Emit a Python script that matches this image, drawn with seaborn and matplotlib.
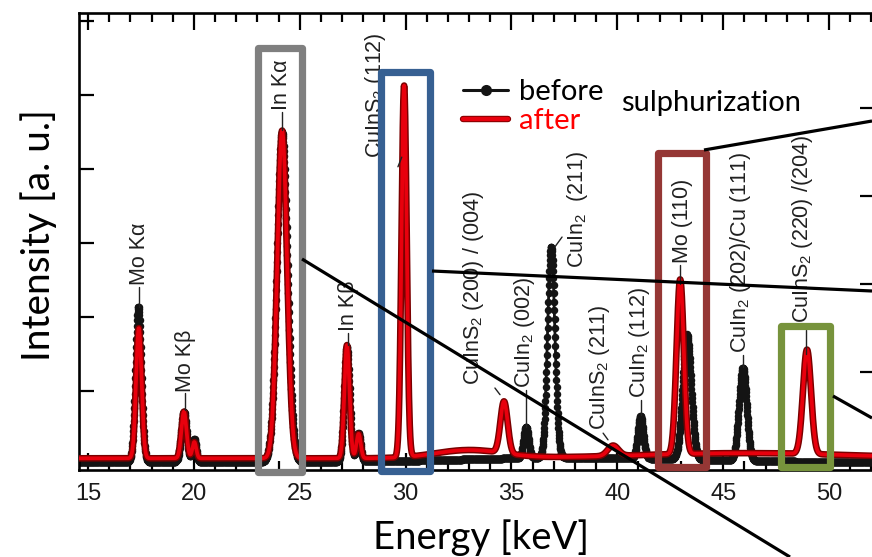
import numpy as np
import pandas as pd
import seaborn as sns
import matplotlib.pyplot as plt
import matplotlib.patheffects as pe
from matplotlib.lines import Line2D
from matplotlib.patches import Rectangle
from matplotlib.transforms import Affine2D
from matplotlib.ticker import MultipleLocator

# ---------------------------------------------------------------------------
# Peak tables (centre [keV], height above background [a.u.], width sigma [keV])
# ---------------------------------------------------------------------------
before_centers = [17.38, 19.53, 20.02, 24.17, 27.23, 27.78, 35.69, 36.88, 41.10, 43.29, 45.93, 38.0]
before_heights = [2.10, 0.68, 0.31, 4.46, 1.55, 0.38, 0.42, 2.85, 0.57, 1.69, 1.26, 0.06]
before_sigmas = [0.14, 0.13, 0.09, 0.25, 0.13, 0.10, 0.12, 0.17, 0.13, 0.20, 0.18, 5.0]
before_background = 0.04

after_centers = [17.40, 19.53, 20.02, 24.17, 27.23, 27.78, 29.93, 34.65, 39.80, 42.97, 48.96, 33.0, 46.0]
after_heights = [1.76, 0.63, 0.22, 4.43, 1.53, 0.33, 5.02, 0.70, 0.14, 2.36, 1.41, 0.11, 0.07]
after_sigmas = [0.13, 0.12, 0.09, 0.23, 0.12, 0.10, 0.12, 0.17, 0.25, 0.17, 0.19, 1.6, 5.0]
after_background = 0.09

# Peak assignments: label, text position (keV, a.u.), leader start and end
peak_labels = ["Mo Kα", "Mo Kβ", "In Kα", "In Kβ", "CuInS$_2$ (112)",
               "CuInS$_2$ (200) / (004)", "CuIn$_2$ (002)", "CuIn$_2$  (211)",
               "CuInS$_2$ (211)", "CuIn$_2$ (112)", "Mo (110)",
               "CuIn$_2$ (202)/Cu (111)", "CuInS$_2$ (220) /(204)"]
label_x = [17.41, 19.62, 24.16, 27.31, 28.56, 33.19, 35.64, 38.10, 39.14, 41.03, 43.08, 45.80, 48.77]
label_y = [2.43, 0.99, 4.80, 1.81, 4.15, 1.08, 1.04, 2.66, 0.47, 0.91, 2.73, 1.51, 1.92]
leader_x0 = [17.41, 19.58, 24.16, 27.28, 29.64, 34.46, 35.69, 37.06, 39.56, 41.12, 42.96, 45.94, 48.92]
leader_y0 = [2.14, 0.74, 4.53, 1.62, 4.03, 0.95, 0.51, 2.95, 0.34, 0.68, 2.45, 1.32, 1.50]
leader_x1 = [17.41, 19.58, 24.16, 27.28, 29.82, 34.22, 35.69, 37.39, 39.33, 41.12, 42.96, 45.94, 48.92]
leader_y1 = [2.41, 0.97, 4.77, 1.78, 4.16, 1.04, 1.01, 3.08, 0.43, 0.88, 2.70, 1.49, 1.82]

# Highlighted regions: (left keV, right keV, bottom, top, colour)
box_left = [23.01, 28.84, 41.93, 47.73]
box_right = [25.11, 31.15, 44.19, 50.05]
box_bottom = [-0.095, -0.08, -0.03, -0.03]
box_top = [5.635, 5.31, 4.22, 1.88]
box_colors = ["#7F7F7F", "#376092", "#953735", "#77933C"]

x_ticks = [15, 20, 25, 30, 35, 40, 45, 50]

# ---------------------------------------------------------------------------
energy = np.arange(14.5, 52.2, 0.012)


def spectrum(centers, heights, sigmas, background):
    y = np.full_like(energy, background)
    for c, h, s in zip(centers, heights, sigmas):
        y += h * np.exp(-0.5 * ((energy - c) / s) ** 2)
    return y


df = pd.DataFrame({
    "energy": energy,
    "before": spectrum(before_centers, before_heights, before_sigmas, before_background),
    "after": spectrum(after_centers, after_heights, after_sigmas, after_background),
})

sns.set_theme(style="ticks")
plt.rcParams["font.family"] = ["Liberation Sans", "DejaVu Sans"]
plt.rcParams["mathtext.fontset"] = "custom"
plt.rcParams["mathtext.rm"] = "Liberation Sans"
plt.rcParams["mathtext.it"] = "Liberation Sans:italic"
plt.rcParams["mathtext.bf"] = "Liberation Sans:bold"

W, H = 872, 557
fig = plt.figure(figsize=(W / 100, H / 100), dpi=100)
fig.patch.set_facecolor("white")

# main axes: left spine at x=79 px, bottom at y=470 px, top at y=13 px
ax = fig.add_axes([79 / W, 1 - 470 / H, (W - 79) / W, (470 - 13) / H])
ax.set_facecolor("white")

sns.lineplot(data=df, x="energy", y="before", ax=ax, color="#141414",
             linewidth=2.0, marker="o", markersize=5.4, markeredgewidth=0,
             zorder=2, legend=False)
red_fx = [pe.Stroke(linewidth=4.8, foreground="#7a0000"), pe.Normal()]
sns.lineplot(data=df, x="energy", y="after", ax=ax, color="#e8000d",
             linewidth=2.7, zorder=3, legend=False, path_effects=red_fx)

ax.set_xlim(14.575, 52.03)
ax.set_ylim(-0.068, 6.108)
ax.set_xticks(x_ticks)
ax.xaxis.set_minor_locator(MultipleLocator(1))
ax.set_yticks(range(0, 7))
ax.set_yticklabels([])
ax.tick_params(axis="x", which="major", direction="in", length=12, width=1.6,
               top=True, bottom=True, labelsize=17, pad=9, color="black",
               labelcolor="#1a1a1a")
ax.tick_params(axis="x", which="minor", direction="in", length=6.5, width=1.6,
               top=True, bottom=True, color="black")
ax.tick_params(axis="y", which="major", direction="in", length=11, width=1.6,
               left=True, right=False, color="black")
for side in ["left", "bottom", "top"]:
    ax.spines[side].set_linewidth(1.9)
    ax.spines[side].set_color("black")
ax.spines["right"].set_visible(False)

ax.set_xlabel("Energy [keV]", fontsize=27.5, family=["Lato", "DejaVu Sans"],
              color="black")
ax.xaxis.set_label_coords((481 - 79) / (W - 79), (470 - 519) / 457)
ax.set_ylabel("Intensity [a. u.]", fontsize=28, family=["Lato", "DejaVu Sans"],
              color="black")
ax.yaxis.set_label_coords((57 - 79) / (W - 79), (470 - 235) / 457)

# peak labels with short leader lines
for lab, tx, ty, x0, y0, x1, y1 in zip(peak_labels, label_x, label_y,
                                        leader_x0, leader_y0, leader_x1, leader_y1):
    ax.plot([x0, x1], [y0, y1], color="#222222", linewidth=1.0, zorder=4)
    ax.text(tx, ty, lab, rotation=90, rotation_mode="anchor", ha="left",
            va="center", fontsize=15.5, color="#202020", zorder=5)

# highlight boxes
for xl, xr, yb, yt, c in zip(box_left, box_right, box_bottom, box_top, box_colors):
    ax.add_patch(Rectangle((xl, yb), xr - xl, yt - yb, fill=False, edgecolor=c,
                           linewidth=5.2, joinstyle="round", clip_on=False,
                           zorder=6))

# legend
handles = [
    Line2D([], [], color="#141414", linewidth=2.2, marker="o", markersize=8,
           markeredgewidth=0),
    Line2D([], [], color="#e8000d", linewidth=3.0,
           path_effects=[pe.Stroke(linewidth=4.6, foreground="#8a0000"), pe.Normal()]),
]
leg = ax.legend(handles, ["before", "after"], loc="upper left",
                bbox_to_anchor=(463 / W, 1 - 79 / H), bbox_transform=fig.transFigure,
                frameon=False, borderpad=0, borderaxespad=0, handlelength=1.55,
                handletextpad=0.38, labelspacing=0.1,
                prop={"family": ["Lato", "DejaVu Sans"], "size": 21})
leg.get_texts()[0].set_color("black")
leg.get_texts()[1].set_color("#ff0000")
leg.set_zorder(7)

fig.text(711 / W, 1 - 111 / H, "sulphurization", ha="center", va="baseline",
         fontsize=21, family=["Lato", "DejaVu Sans"], color="black")

# call-out lines leading to the detail panels on the right
px = Affine2D().scale(1 / W, -1 / H).translate(0, 1) + fig.transFigure
callouts = [((704, 150), (872, 121)), ((432, 271), (872, 291)),
            ((302, 259), (790, 557)), ((833, 396), (872, 418))]
for (xa, ya), (xb, yb) in callouts:
    fig.add_artist(Line2D([xa, xb], [ya, yb], transform=px, color="black",
                          linewidth=2.3, solid_capstyle="butt", zorder=10))

# left axis ticks of the neighbouring panel
ax2 = fig.add_axes([1.0, 1 - 470 / H, 0.3, (470 - 13) / H])
ax2.patch.set_visible(False)
for s in ax2.spines.values():
    s.set_visible(False)
ax2.set_ylim(-0.11, 5.08)
ax2.set_yticks([1, 2, 3, 4])
ax2.set_yticklabels([])
ax2.set_xticks([])
ax2.tick_params(axis="y", direction="out", length=9, width=1.6, color="black")

fig.savefig("out.png", dpi=100, facecolor="white")
